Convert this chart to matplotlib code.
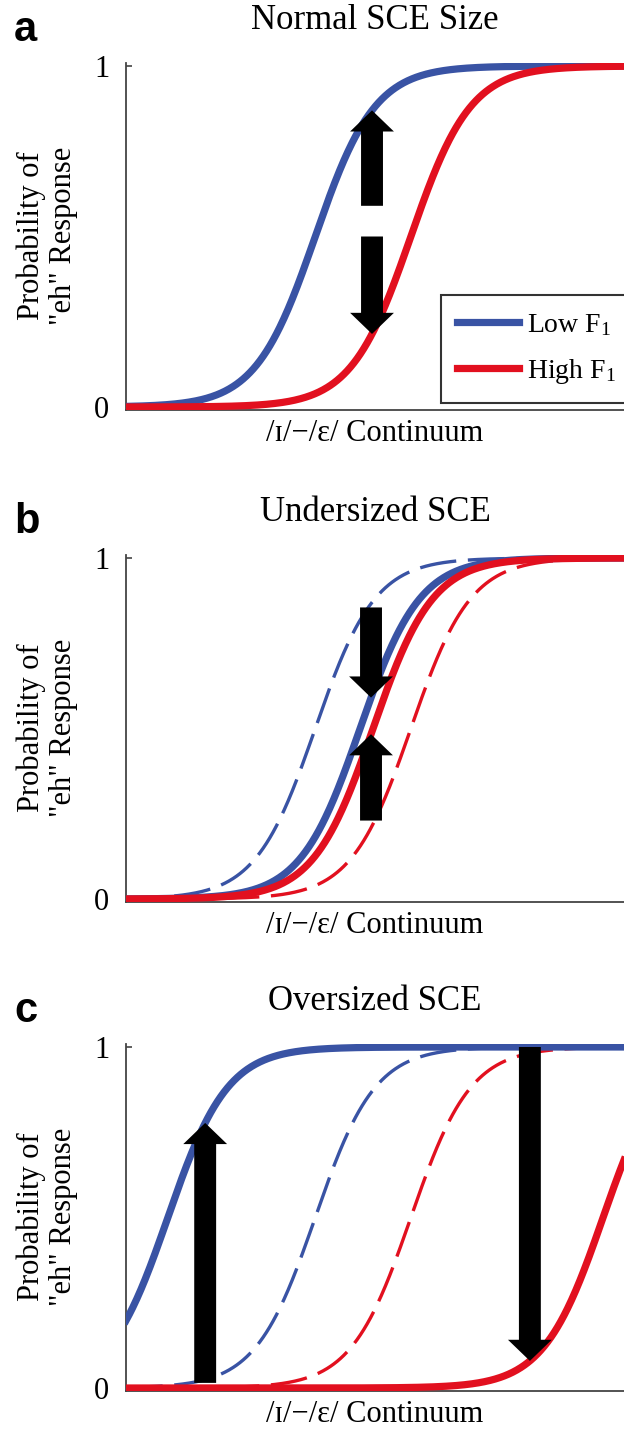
import numpy as np
import matplotlib
matplotlib.use("Agg")
import matplotlib.pyplot as plt
from matplotlib.patches import FancyArrow

plt.rcParams['font.family'] = ['Liberation Serif', 'DejaVu Serif']
plt.rcParams['mathtext.fontset'] = 'custom'
plt.rcParams['mathtext.rm'] = 'Liberation Serif'
plt.rcParams['mathtext.it'] = 'Liberation Serif:italic'

# psychometric curves: category boundary (0-100 continuum) and slope per condition
normal_bound = {'low': 38.0, 'high': 57.2}
under_bound = {'low': 47.0, 'high': 49.6}
over_bound = {'low': 8.4, 'high': 95.8}
slope = 6.0

panel_titles = ['Normal SCE Size', 'Undersized SCE', 'Oversized SCE']
panel_letters = ['a', 'b', 'c']
legend_labels = ['Low F$_1$', 'High F$_1$']

# arrows: (x position, tail value, which curve the head lands on)
arrows_a = [(49.4, 0.59, 'low'), (49.4, 0.50, 'high')]
arrows_b = [(49.2, 0.855, 'low'), (49.2, 0.23, 'high')]
arrows_c = [(15.9, 0.015, 'low'), (81.1, 1.0, 'high')]

BLUE = '#3953a4'
RED = '#e2101f'

def psych(x, b):
    return 1.0 / (1.0 + np.exp(-(x - b) / slope))

x = np.linspace(0, 100, 600)

W, H = 624, 1433
fig = plt.figure(figsize=(W / 100, H / 100), dpi=100)

# (top of 1-line, bottom of 0-line) in pixels for each panel
rows = [(66, 407), (558, 899), (1047, 1388)]
ax_list = []
for (y1, y0) in rows:
    per = y0 - y1
    top = y1 - 0.01 * per
    bot = y0 + 0.008 * per
    ax = fig.add_axes([126 / W, 1 - bot / H, 498 / W, (bot - top) / H])
    ax.set_xlim(0, 100)
    ax.set_ylim(-0.008, 1.01)
    ax_list.append(ax)

def draw_arrow(ax, xa, tail, head):
    dy = head - tail
    ax.add_patch(FancyArrow(xa, tail, 0, dy, width=4.4, head_width=8.8,
                            head_length=0.062, length_includes_head=True,
                            color='black', lw=0, zorder=5))

bounds = [normal_bound, under_bound, over_bound]
arrow_sets = [arrows_a, arrows_b, arrows_c]

for i, ax in enumerate(ax_list):
    b = bounds[i]
    if i > 0:
        # normal-size curves shown dashed for reference
        ax.plot(x, psych(x, normal_bound['low']), color=BLUE, lw=2.4,
                dashes=(11, 3.5), zorder=2)
        ax.plot(x, psych(x, normal_bound['high']), color=RED, lw=2.4,
                dashes=(11, 3.5), zorder=2)
    l1, = ax.plot(x, psych(x, b['low']), color=BLUE, lw=5.2, zorder=3,
                  label=legend_labels[0])
    l2, = ax.plot(x, psych(x, b['high']), color=RED, lw=5.2, zorder=3,
                  label=legend_labels[1])
    for xa, tail, which in arrow_sets[i]:
        draw_arrow(ax, xa, tail, psych(xa, b[which]))

    for s in ['top', 'right']:
        ax.spines[s].set_visible(False)
    for s in ['left', 'bottom']:
        ax.spines[s].set_color('#444444')
        ax.spines[s].set_linewidth(1.3)
    ax.set_xticks([])
    ax.set_yticks([0, 1])
    ax.set_yticklabels(['0', '1'])
    ax.tick_params(axis='y', direction='in', length=4, width=1.2,
                   color='#444444', labelsize=22, pad=12)
    ax.set_title(panel_titles[i], fontsize=25, pad=24)
    ax.set_xlabel('/\u026a/\u2212/\u025b/ Continuum', fontsize=22, labelpad=7)
    ax.set_ylabel('Probability of\n"eh" Response', fontsize=22,
                  linespacing=1.1)
    ax.yaxis.set_label_coords(-0.097, 0.5)

    fig.text(14 / W, 1 - (rows[i][0] - 25) / H, panel_letters[i],
             fontsize=30, fontweight='bold', family='Liberation Sans',
             ha='left', va='baseline')

    if i == 0:
        leg = ax.legend(handles=[l1, l2], loc='lower left',
                        bbox_to_anchor=(0.632, 0.02), fontsize=20,
                        frameon=True, fancybox=False, handlelength=2.2,
                        borderpad=0.6, labelspacing=0.7,
                        handletextpad=0.3, borderaxespad=0)
        leg.get_frame().set_edgecolor('black')
        leg.get_frame().set_linewidth(1.5)

fig.savefig('out.png', dpi=100)
